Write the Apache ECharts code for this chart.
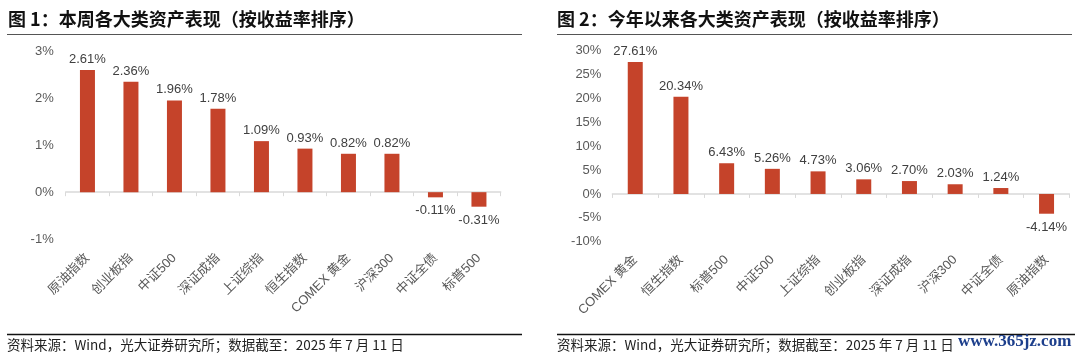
<!DOCTYPE html>
<html>
<head>
<meta charset="utf-8">
<script src="https://cdn.jsdelivr.net/npm/echarts@6/dist/echarts.min.js"></script>
<style>
html,body{margin:0;padding:0;background:#fff;}
#c{width:1080px;height:357px;}
</style>
</head>
<body>
<div id="c"></div>
<script>
// ---- data ----
const title1 = '图 1：本周各大类资产表现（按收益率排序）';
const title2 = '图 2：今年以来各大类资产表现（按收益率排序）';
const sourceText = '资料来源：Wind，光大证券研究所；数据截至：2025 年 7 月 11 日';
const watermark = 'www.365jz.com';

const cats1 = ['原油指数','创业板指','中证500','深证成指','上证综指','恒生指数','COMEX 黄金','沪深300','中证全债','标普500'];
const vals1 = [2.61, 2.36, 1.96, 1.78, 1.09, 0.93, 0.82, 0.82, -0.11, -0.31];
const yAxis1 = {min: -1, max: 3, interval: 1};

const cats2 = ['COMEX 黄金','恒生指数','标普500','中证500','上证综指','创业板指','深证成指','沪深300','中证全债','原油指数'];
const vals2 = [27.61, 20.34, 6.43, 5.26, 4.73, 3.06, 2.70, 2.03, 1.24, -4.14];
const yAxis2 = {min: -10, max: 30, interval: 5};

// ---- styles ----
const BAR = '#C5432A';
const NUMFONT = "'Liberation Sans', Arial, 'Noto Sans CJK SC', sans-serif";

function seriesData(vals) {
  return vals.map(v => ({
    value: v,
    label: v < 0 ? { position: 'bottom', distance: 7 } : { position: 'top', distance: 4 }
  }));
}

function makeX(idx, cats, margin) {
  return {
    type: 'category', gridIndex: idx, data: cats,
    axisLine: { onZero: true, lineStyle: { color: '#d9d9d9', width: 1.5 } },
    axisTick: { show: true, length: 4, lineStyle: { color: '#d9d9d9' } },
    axisLabel: { rotate: 45, margin: margin, color: '#595959', fontSize: 13, fontFamily: NUMFONT, interval: 0 },
    splitLine: { show: false }
  };
}
function makeY(idx, cfg, margin) {
  return {
    type: 'value', gridIndex: idx, min: cfg.min, max: cfg.max, interval: cfg.interval,
    axisLine: { show: false }, axisTick: { show: false }, splitLine: { show: false },
    axisLabel: { margin: margin, color: '#595959', fontSize: 13, fontFamily: NUMFONT, formatter: v => v + '%' }
  };
}
function makeSeries(idx, vals) {
  return {
    type: 'bar', xAxisIndex: idx, yAxisIndex: idx, barWidth: 15,
    data: seriesData(vals),
    itemStyle: { color: BAR },
    label: { show: true, color: '#404040', fontSize: 13, fontFamily: NUMFONT,
             formatter: p => p.value.toFixed(2) + '%' },
    silent: true, animation: false
  };
}

const chart = echarts.init(document.getElementById('c'), null, { renderer: 'canvas' });
chart.setOption({
  animation: false,
  grid: [
    { left: 65.7, top: 51.7, width: 435, height: 187.3, outerBoundsMode: 'none', containLabel: false },
    { left: 612.4, top: 50.7, width: 457, height: 191, outerBoundsMode: 'none', containLabel: false }
  ],
  xAxis: [ makeX(0, cats1, 17), makeX(1, cats2, 16) ],
  yAxis: [ makeY(0, yAxis1, 12), makeY(1, yAxis2, 11) ],
  series: [ makeSeries(0, vals1), makeSeries(1, vals2) ],
  graphic: [
    { type: 'text', left: 8, top: 10, style: { text: title1, font: "bold 18px 'Noto Sans CJK SC'", fill: '#111' } },
    { type: 'text', left: 557, top: 10, style: { text: title2, font: "bold 18px 'Noto Sans CJK SC'", fill: '#111' } },
    { type: 'line', shape: { x1: 7, y1: 34.5, x2: 522, y2: 34.5 }, style: { stroke: '#555', lineWidth: 1.2 } },
    { type: 'line', shape: { x1: 557, y1: 34.5, x2: 1072, y2: 34.5 }, style: { stroke: '#555', lineWidth: 1.2 } },
    { type: 'line', shape: { x1: 7, y1: 334.5, x2: 522, y2: 334.5 }, style: { stroke: '#111', lineWidth: 1.6 } },
    { type: 'line', shape: { x1: 557, y1: 334.5, x2: 1075, y2: 334.5 }, style: { stroke: '#111', lineWidth: 1.6 } },
    { type: 'text', left: 7, top: 338.5, style: { text: sourceText, font: "13.5px 'Noto Sans CJK SC'", fill: '#222' } },
    { type: 'text', left: 557, top: 338.5, style: { text: sourceText, font: "13.5px 'Noto Sans CJK SC'", fill: '#222' } },
    { type: 'text', left: 958, top: 333, style: { text: watermark, font: "bold 17px 'Liberation Serif', serif", fill: '#1d3f8c' } }
  ]
});
</script>
</body>
</html>
